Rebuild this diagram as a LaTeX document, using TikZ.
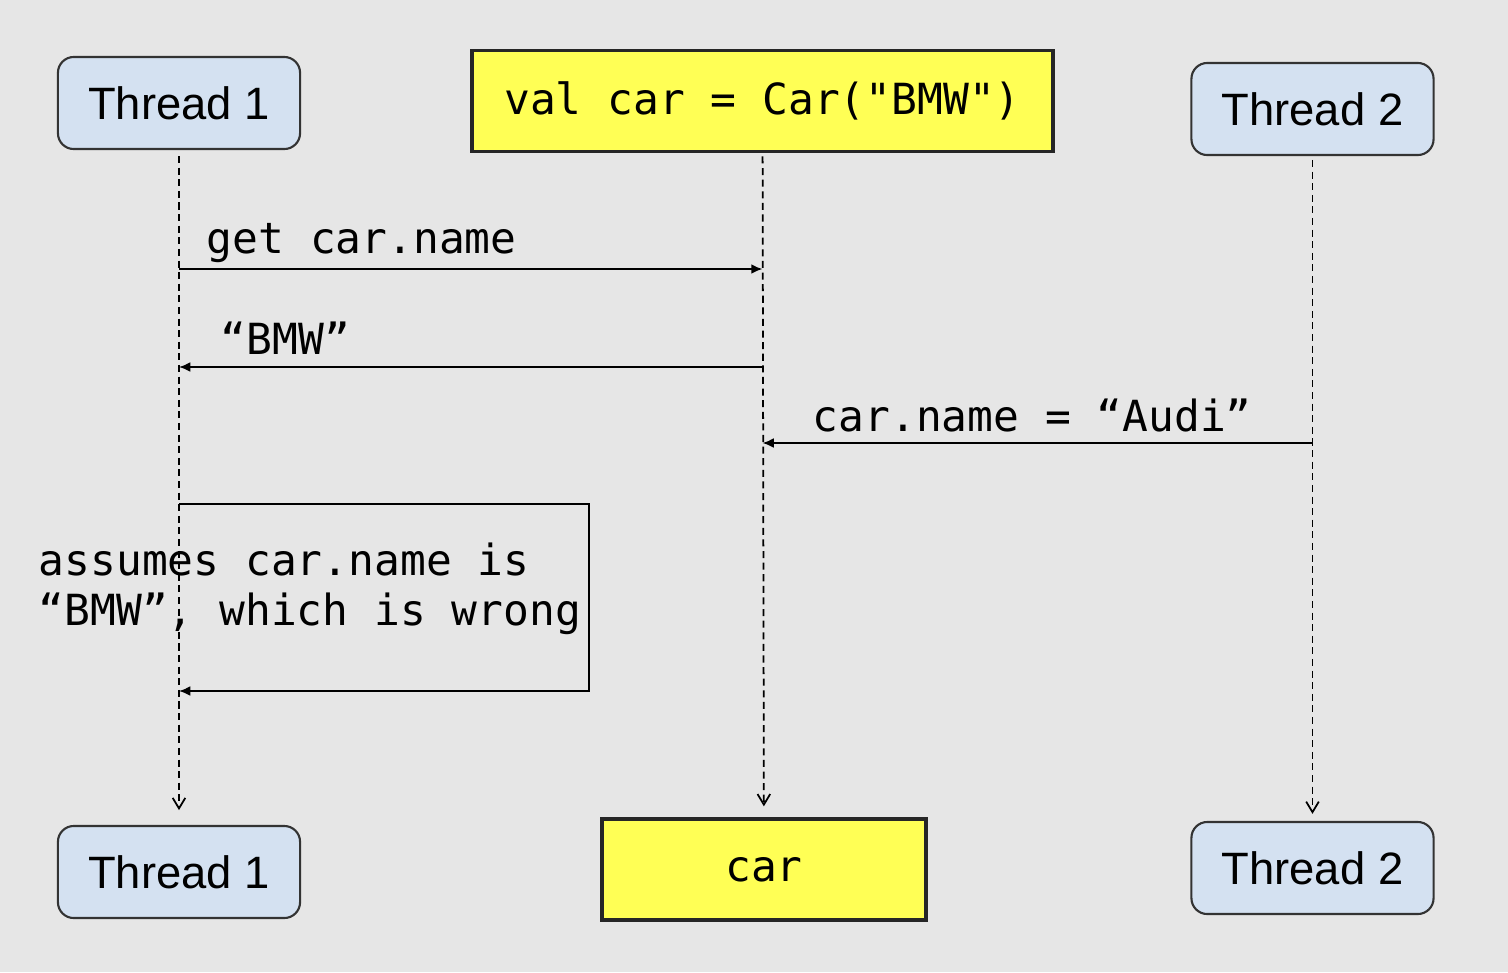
\documentclass[tikz,border=0pt]{standalone}
\usepackage{fontspec}
\setmainfont{Liberation Sans}
\newfontfamily\codefont{DejaVu Sans Mono}
\usetikzlibrary{arrows.meta}
\definecolor{bggray}{HTML}{E6E6E6}
\definecolor{threadblue}{HTML}{D4E1F1}
\definecolor{objyellow}{HTML}{FFFF55}
\tikzset{
  thread/.style={draw=black!80, fill=threadblue, rounded corners=4.5pt, line width=0.6pt,
    minimum width=2.42cm, minimum height=0.92cm, font=\fontsize{12.9}{15}\selectfont},
  object/.style={draw=black!85, fill=objyellow, line width=1pt, minimum height=1.01cm,
    font=\codefont\fontsize{12.2}{15}\selectfont},
  lifeline/.style={line width=0.5pt, dash pattern=on 2pt off 1.3pt,
    -{Straight Barb[length=3pt,width=3.6pt]}},
  msg/.style={line width=0.55pt, -{Latex[length=3.2pt,width=2.8pt]}},
  msglabel/.style={inner sep=0pt, font=\codefont\fontsize{12.2}{14.2}\selectfont},
}
\begin{document}
\begin{tikzpicture}[x=0.01cm, y=-0.01cm]
  \fill[bggray] (0,0) rectangle (1508,972);
  \draw
    (179,103) node[thread] (t1top){Thread 1}
    (762.5,101) node[object, minimum width=5.81cm] (cartop){val car = Car("BMW")}
    (1312.5,109) node[thread] (t2top){Thread 2}
    (179,872) node[thread] (t1bot){Thread 1}
    (764,869.5) node[object, minimum width=3.24cm] (carbot){car}
    (1312.5,868) node[thread] (t2bot){Thread 2};
  % message labels
  \node[msglabel, anchor=base west] (getlbl) at (206,253) {get car.name};
  \node[msglabel, anchor=base west] (bmwlbl) at (220,354) {“BMW”};
  \node[msglabel, anchor=base west] (audilbl) at (812,431) {car.name = “Audi”};
  \node[msglabel, anchor=west, align=left] (wronglbl) at (38,589)
    {assumes car.name is\\“BMW”, which is wrong};
  % lifelines
  \begin{scope}
    \draw[lifeline, shorten <=1.7pt, shorten >=4.2pt] (t1top) -- (t1bot);
    \draw[lifeline, shorten <=0.9pt, shorten >=3.1pt] (cartop) -- (carbot);
    \draw[lifeline, shorten <=1.1pt, shorten >=2pt] (t2top) -- (t2bot);
  \end{scope}
  % messages
  \coordinate (get1) at (t1top.south |- 0,269);
  \coordinate (get2) at (cartop.south |- 0,269);
  \coordinate (ret1) at (cartop.south |- 0,367);
  \coordinate (ret2) at (t1top.south |- 0,367);
  \coordinate (set1) at (t2top.south |- 0,443);
  \coordinate (set2) at (cartop.south |- 0,443);
  \coordinate (self1) at (t1top.south |- 0,504);
  \coordinate (self2) at (t1top.south |- 0,691);
  \begin{scope}
    \draw[msg] (get1) -- (get2);
    \draw[msg] (ret1) -- (ret2);
    \draw[msg] (set1) -- (set2);
    \draw[msg] (self1) -- ++(410,0) |- (self2);
  \end{scope}
\end{tikzpicture}
\end{document}
